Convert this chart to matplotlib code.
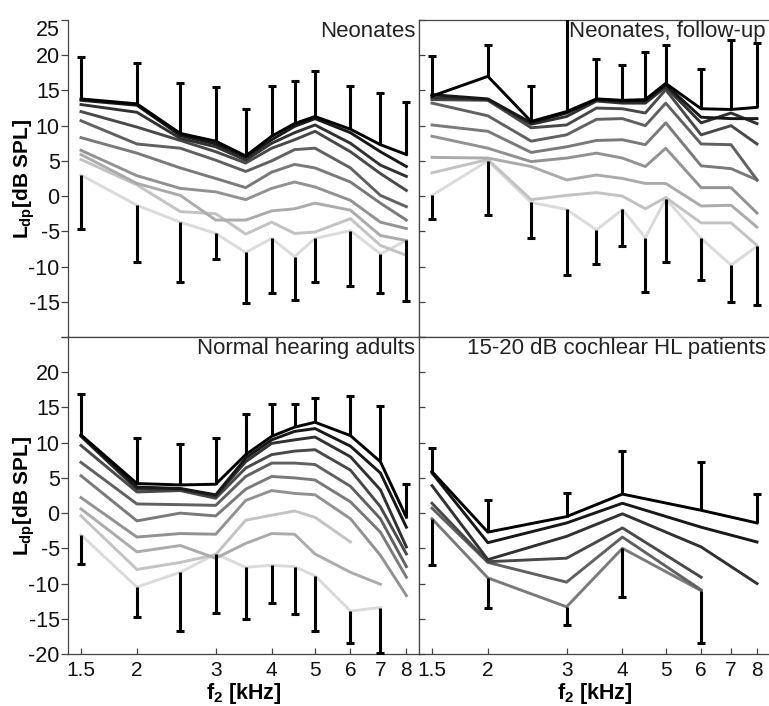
import numpy as np
import matplotlib
matplotlib.use("Agg")
import matplotlib.pyplot as plt
from matplotlib.ticker import NullLocator, FixedLocator

plt.rcParams['font.family'] = ['Liberation Sans', 'DejaVu Sans']
plt.rcParams['mathtext.fontset'] = 'custom'
plt.rcParams['mathtext.rm'] = 'Liberation Sans'
plt.rcParams['mathtext.bf'] = 'Liberation Sans:bold'

nan = np.nan

# f2 frequencies (kHz)
f2_full = [1.5, 2, 2.5, 3, 3.5, 4, 4.5, 5, 6, 7, 8]
f2_hl = [1.5, 2, 3, 4, 6, 8]
f2_ticks = [1.5, 2, 3, 4, 5, 6, 7, 8]
f2_tick_labels = ['1.5', '2', '3', '4', '5', '6', '7', '8']

# DP-grams, one row per stimulus level (highest level first), L_dp in dB SPL
neonates = [
    [13.8, 13.1, 8.9, 7.8, 5.7, 8.5, 10.3, 11.3, 9.5, 7.3, 5.9],
    [13.6, 12.9, 8.6, 7.4, 5.5, 8.0, 9.9, 11.0, 9.0, 6.3, 4.2],
    [13.0, 11.9, 8.2, 7.0, 5.1, 7.5, 9.0, 10.1, 7.5, 4.4, 2.8],
    [12.0, 9.8, 7.9, 6.3, 4.7, 6.8, 8.0, 9.2, 6.3, 3.2, 0.8],
    [10.7, 7.4, 6.8, 5.1, 3.5, 5.0, 6.6, 6.8, 4.0, 0.1, -1.5],
    [8.3, 6.1, 4.0, 2.5, 1.2, 3.4, 4.5, 4.0, 2.0, -1.0, -3.4],
    [6.5, 2.9, 1.1, 0.6, -0.5, 1.1, 2.0, 1.3, -0.6, -3.7, -4.6],
    [5.9, 1.8, 0.1, -3.4, -3.4, -2.1, -1.8, -1.0, -2.0, -5.6, -6.3],
    [5.2, 1.6, -2.2, -2.5, -5.4, -3.7, -5.3, -5.1, -3.2, -7.0, -8.4],
    [3.0, -1.3, -3.7, -5.3, -8.0, -6.0, -8.6, -6.0, -4.9, -8.2, -6.3],
]
neonates_sd_hi = [19.7, 18.9, 16.1, 15.5, 12.4, 15.7, 16.4, 17.8, 15.7, 14.7, 13.3]
neonates_sd_lo = [-4.6, -9.3, -12.2, -8.9, -15.2, -13.7, -14.7, -12.2, -12.8, -13.7, -14.9]

followup = [
    [14.2, 17.0, 10.6, 12.0, 13.8, 13.6, 13.7, 16.0, 12.4, 12.3, 12.6],
    [14.4, 13.8, 10.4, 11.8, 13.7, 13.5, 13.5, 15.8, 11.2, 11.0, 11.0],
    [14.0, 13.7, 10.2, 11.3, 13.5, 13.2, 13.2, 15.5, 10.4, 11.8, 10.3],
    [13.7, 13.6, 9.7, 10.1, 12.5, 12.4, 11.8, 15.1, 8.7, 10.0, 7.4],
    [13.2, 11.4, 7.8, 8.7, 10.9, 11.0, 10.0, 13.2, 7.4, 7.3, 2.3],
    [10.1, 9.2, 6.2, 7.0, 7.9, 8.0, 7.3, 10.4, 4.3, 3.9, 2.3],
    [8.5, 6.8, 4.9, 5.4, 6.1, 5.4, 4.2, 6.8, 1.2, 1.2, -2.4],
    [5.5, 5.4, 4.2, 2.3, 3.0, 2.5, 1.8, 1.8, -1.4, -1.3, -4.4],
    [3.3, 5.2, -0.5, 0.1, 0.5, 0.0, -1.8, -0.2, -3.8, -3.8, -7.0],
    [0.1, 5.0, -0.9, -1.9, -4.8, -1.9, -5.9, -0.4, -6.0, -9.8, -7.1],
]
followup_sd_hi = [19.9, 21.5, 15.7, 27.0, 19.5, 18.6, 20.5, 21.4, 18.1, 22.1, 21.8]
followup_sd_lo = [-3.2, -2.7, -5.9, -11.2, -9.7, -7.1, -13.6, -9.4, -11.9, -15.0, -15.4]

adults = [
    [11.1, 4.2, 4.0, 4.1, 8.3, 10.9, 12.2, 12.9, 11.0, 7.3, -0.6],
    [11.0, 3.7, 3.5, 2.6, 7.8, 10.4, 11.6, 12.0, 9.5, 5.7, -2.0],
    [10.9, 3.4, 3.4, 2.4, 7.3, 9.9, 10.4, 10.8, 8.0, 3.3, -4.8],
    [9.6, 3.0, 3.2, 2.1, 6.4, 8.3, 8.8, 9.0, 6.1, 0.9, -5.8],
    [7.2, 1.3, 1.2, 1.1, 5.2, 7.1, 7.1, 6.9, 3.8, -0.8, -7.6],
    [5.3, -1.1, 0.0, -0.4, 3.4, 5.2, 5.0, 4.7, 1.6, -2.7, -9.1],
    [2.2, -3.4, -2.9, -3.0, 1.8, 3.2, 2.8, 2.6, -0.8, -6.0, -11.7],
    [0.6, -5.5, -4.6, -6.4, -4.3, -2.9, -3.0, -5.8, -8.4, -10.1, nan],
    [-0.4, -8.0, -7.0, -5.9, -1.0, -0.3, 0.3, -0.6, -4.1, nan, nan],
    [-3.1, -10.5, -8.4, -5.8, -7.7, -7.4, -7.6, -8.9, -13.9, -13.4, nan],
]
adults_sd_hi = [16.9, 10.6, 9.8, 10.6, 14.1, 15.5, 15.5, 16.4, 16.6, 15.2, 4.1]
adults_sd_lo = [-7.2, -14.8, -16.7, -14.2, -15.0, -12.8, -14.3, -16.8, -18.5, -19.8, nan]

patients = [
    [5.9, -2.7, -0.5, 2.7, 0.4, -1.4],
    [5.7, -4.2, -1.4, 1.4, -2.0, -4.1],
    [3.9, -6.6, -3.3, -0.1, -4.8, -10.0],
    [1.4, -6.9, -6.4, -2.1, -9.1, nan],
    [0.7, -7.0, -9.8, -3.4, -10.9, nan],
    [-0.8, -9.2, -13.3, -5.0, -11.0, nan],
]
patients_sd_hi = [9.3, 1.9, 2.8, 8.8, 7.2, 2.7]
patients_sd_lo = [-7.3, -13.4, -15.9, -11.9, -18.5, nan]

titles = ['Neonates', 'Neonates, follow-up',
          'Normal hearing adults', '15-20 dB cochlear HL patients']

# tick marks along the lower edge of the upper panels (kHz)
upper_tick_marks = [1.91, 2.41, 3.32, 4.15, 4.98, 5.77, 6.5, 7.25]

N_LEVELS = 10
SPINE = '#444444'


def draw_panel(ax, f, curves, sd_hi, sd_lo):
    f = np.asarray(f, dtype=float)
    arr = np.asarray(curves, dtype=float)
    for k in reversed(range(len(arr))):
        g = 0.86 * k / (N_LEVELS - 1)
        ax.plot(f, arr[k], color=(g, g, g), lw=2.1, solid_joinstyle='round',
                zorder=3 + (N_LEVELS - k) * 0.01)
    top = arr[0]
    for i, x in enumerate(f):
        col = arr[:, i]
        valid = col[~np.isnan(col)]
        bottom = valid[-1]
        if not np.isnan(sd_hi[i]):
            ax.plot([x, x], [top[i], sd_hi[i]], color='black', lw=2.2,
                    solid_capstyle='butt', zorder=5)
            ax.plot([x], [sd_hi[i]], marker='_', ms=6, mew=2.2, color='black', zorder=5)
        if not np.isnan(sd_lo[i]):
            ax.plot([x, x], [bottom, sd_lo[i]], color='black', lw=2.2,
                    solid_capstyle='butt', zorder=5)
            ax.plot([x], [sd_lo[i]], marker='_', ms=6, mew=2.2, color='black', zorder=5)


W, H = 769, 706
fig = plt.figure(figsize=(W / 100, H / 100), dpi=100)

xl, xr, xe = 68.3, 419.3, 769.9
yt, ym, yb = 20, 337, 654
cols = [(xl / W, (xr - xl) / W), (xr / W, (xe - xr) / W)]
rows = [(1 - ym / H, (ym - yt) / H), (1 - yb / H, (yb - ym) / H)]

panels = [
    (neonates, f2_full, neonates_sd_hi, neonates_sd_lo),
    (followup, f2_full, followup_sd_hi, followup_sd_lo),
    (adults, f2_full, adults_sd_hi, adults_sd_lo),
    (patients, f2_hl, patients_sd_hi, patients_sd_lo),
]

yticks = list(range(-20, 26, 5))

for idx, (curves, f, hi, lo) in enumerate(panels):
    r, c = divmod(idx, 2)
    x0, w = cols[c]
    y0, h = rows[r]
    ax = fig.add_axes([x0, y0, w, h])
    ax.set_xscale('log')
    ax.set_xlim(1.405, 8.55)
    ax.set_ylim(-20, 25)
    draw_panel(ax, f, curves, hi, lo)

    for s in ax.spines.values():
        s.set_color(SPINE)
        s.set_linewidth(0.9)
    if idx == 0:
        ax.spines['top'].set_visible(False)
    if c == 1:
        ax.spines['right'].set_visible(False)

    ax.xaxis.set_minor_locator(NullLocator())
    if r == 1:
        ax.set_xticks(f2_ticks)
        ax.set_xticklabels(f2_tick_labels)
        ax.tick_params(axis='x', direction='in', length=4, width=0.9, color=SPINE,
                       labelsize=15, pad=5, labelcolor='#111111')
        ax.set_xlabel(r'f$_{\mathbf{2}}$ [kHz]', fontsize=15.5, fontweight='bold')
        ax.xaxis.set_label_coords(0.5, -0.086)
        ax.xaxis.label.set_va('top')
    else:
        ax.xaxis.set_major_locator(FixedLocator(upper_tick_marks))
        ax.set_xticklabels([])
        ax.tick_params(axis='x', direction='out', length=4, width=0.9, color=SPINE)

    ax.set_yticks(yticks)
    if c == 0:
        labels = [str(v) for v in yticks]
        if r == 0:
            labels[0] = ''
        else:
            labels[-1] = ''
        ax.set_yticklabels(labels)
        ax.tick_params(axis='y', direction='out', length=5, width=0.9, color=SPINE,
                       labelsize=15.5, pad=1.2, labelcolor='#111111')
        if r == 0:
            # keep the topmost label inside the figure
            ax.yaxis.get_major_ticks()[-1].label1.set_verticalalignment('top')
        ax.set_ylabel(r'L$_{\mathbf{dp}}$[dB SPL]', fontsize=15, fontweight='bold')
        ax.yaxis.set_label_coords(-0.09, 0.5)
    else:
        ax.set_yticklabels([])
        ax.tick_params(axis='y', direction='in', length=4, width=0.9, color=SPINE)

    ax.text(0.988, 0.997, titles[idx], transform=ax.transAxes, ha='right', va='top',
            fontsize=16, color='#222222', zorder=6)

fig.savefig('out.png', dpi=100)
